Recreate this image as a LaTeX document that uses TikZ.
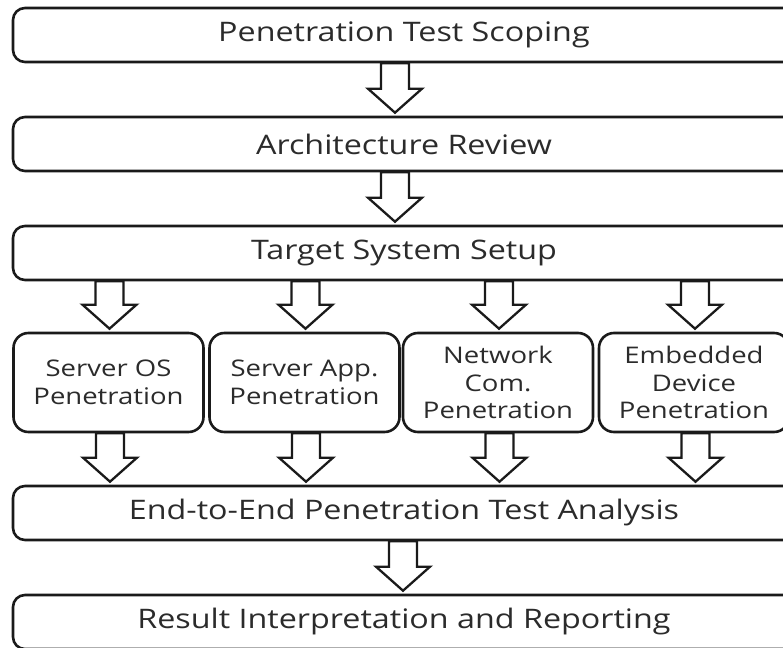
\documentclass[tikz,border=0pt]{standalone}
\usepackage{fontspec}
\setmainfont{Open Sans}[FakeStretch=1.2]
\usetikzlibrary{calc}
\definecolor{ink}{HTML}{1A1A1A}
\definecolor{textgray}{HTML}{2B2B2B}
\tikzset{
  nodebase/.style={font=\fontsize{27}{32}\selectfont, text=textgray},
  stage/.style={nodebase, draw=ink, line width=2.6bp, rounded corners=12bp,
    minimum width=782bp, minimum height=54bp, inner sep=0pt},
  track/.style={nodebase, font=\fontsize{23}{28}\selectfont, draw=ink,
    line width=2.6bp, rounded corners=15bp, align=center,
    minimum width=190bp, minimum height=99bp, inner sep=0pt},
  blockarrow/.style={draw=ink, line width=2.3bp, fill=white, line join=miter}
}
% hollow down arrow from the bottom of #2 to the top of #3,
% on the axis of #4, shifted by #1
\newcommand{\blockarrow}[4][0]{%
  \draw[blockarrow] ($(#2.south -| #4)+(#1-14,0)$)
    -- ($(#3.north -| #4)+(#1-14,-27)$) -- ($(#3.north -| #4)+(#1-27,-27)$)
    -- ($(#3.north -| #4)+(#1,-3)$)
    -- ($(#3.north -| #4)+(#1+27,-27)$) -- ($(#3.north -| #4)+(#1+14,-27)$)
    -- ($(#2.south -| #4)+(#1+14,0)$) -- cycle;}

\begin{document}
\begin{tikzpicture}[x=1bp,y=-1bp]
\useasboundingbox (0,0) rectangle (783,648);

% Main stages
\node[stage] (scoping) at (404,35) {Penetration Test Scoping};
\node[stage] (review) at (404,144) {Architecture Review};
\node[stage] (setup) at (404,253) {Target System Setup};

% Parallel penetration tracks
\node[track] (serveros) at (108.5,382.5) {Server OS\\Penetration};
\node[track] (serverapp) at (304.5,382.5) {Server App.\\Penetration};
\node[track] (network) at (498,382.5) {Network\\Com.\\Penetration};
\node[track] (embedded) at (694,382.5) {Embedded\\Device\\Penetration};

% Analysis and reporting
\node[stage] (analysis) at (404,513) {End-to-End Penetration Test Analysis};
\node[stage] (report) at (404,622) {Result Interpretation and Reporting};

% Flow
\blockarrow[-9]{scoping}{review}{scoping}
\blockarrow[-9]{review}{setup}{review}
\foreach \t in {serveros, serverapp, network, embedded}
  \blockarrow[1]{setup}{\t}{\t};
\foreach \t in {serveros, serverapp, network, embedded}
  \blockarrow[1.5]{\t}{analysis}{\t};
\blockarrow[-1]{analysis}{report}{analysis}

\end{tikzpicture}
\end{document}
